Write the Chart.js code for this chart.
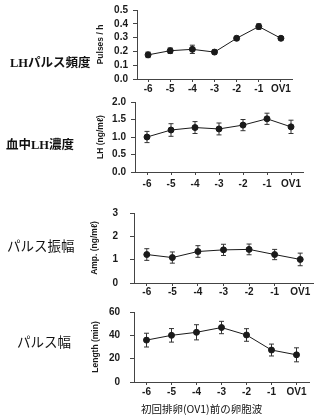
<!DOCTYPE html>
<html>
<head>
<meta charset="utf-8">
<script src="https://cdn.jsdelivr.net/npm/chart.js@4/dist/chart.umd.min.js"></script>
<style>
  html, body { margin: 0; padding: 0; background: #fff; }
  #wrap { position: relative; width: 321px; height: 419px; overflow: hidden; }
  #wrap canvas { position: absolute; left: 0; }
  .lbl { position: absolute; font-family: "Noto Sans CJK JP", sans-serif; font-size: 13.5px; line-height: 1; white-space: nowrap; color: #111; }
  .lat { font-family: "Liberation Serif", serif; font-weight: bold; }
  .bold { font-weight: bold; font-size: 12.5px; }
</style>
</head>
<body>
<div id="wrap">
  <canvas id="c1" width="321" height="100"></canvas>
  <canvas id="c2" width="321" height="100"></canvas>
  <canvas id="c3" width="321" height="100"></canvas>
  <canvas id="c4" width="321" height="100"></canvas>
  <div class="lbl bold" style="left:10px;top:56px;"><span class="lat">LH</span>パルス頻度</div>
  <div class="lbl bold" style="left:6px;top:138px;">血中<span class="lat">LH</span>濃度</div>
  <div class="lbl" style="left:7px;top:239px;">パルス振幅</div>
  <div class="lbl" style="left:17px;top:335px;">パルス幅</div>
  <div class="lbl" style="left:141px;top:404px;font-size:10.5px;">初回排卵(OV1)前の卵胞波</div>
</div>
<script>
// 卵胞波（初回排卵前）
const waves = ['-6', '-5', '-4', '-3', '-2', '-1', 'OV1'];

// LHパルス頻度 (pulses/h) 平均 ± SEM
const pulseFreq    = [0.175, 0.205, 0.215, 0.195, 0.295, 0.38, 0.295];
const pulseFreqSem = [0.02, 0.02, 0.03, 0.015, 0.015, 0.02, 0.012];
const pulseFreqTicks = [0, 0.1, 0.2, 0.3, 0.4, 0.5];

// 血中LH濃度 (ng/ml)
const lhConc    = [1.0, 1.2, 1.27, 1.23, 1.34, 1.52, 1.29];
const lhConcSem = [0.16, 0.18, 0.17, 0.17, 0.16, 0.16, 0.19];
const lhConcTicks = [0, 0.5, 1.0, 1.5, 2.0];

// パルス振幅 (ng/ml)
const pulseAmp    = [1.22, 1.09, 1.35, 1.42, 1.44, 1.22, 1.01];
const pulseAmpSem = [0.25, 0.24, 0.25, 0.24, 0.23, 0.22, 0.27];
const pulseAmpTicks = [0, 1, 2, 3];

// パルス幅 (min)
const pulseLen    = [35.9, 40.0, 42.6, 46.7, 40.3, 27.4, 23.3];
const pulseLenSem = [5.9, 5.8, 6.5, 5.3, 5.4, 5.1, 6.0];
const pulseLenTicks = [0, 20, 40, 60];

const INK = '#1a1a1a';
const tickFont = { family: 'Liberation Sans, Arial, sans-serif', size: 10, weight: 'bold' };
const titleFont = { family: 'Liberation Sans, Arial, sans-serif', size: 8.5, weight: 'bold' };

// 平均値の上下にSEMのエラーバーを描く
const errorBars = {
  id: 'errorBars',
  beforeDatasetsDraw(chart) {
    const ctx = chart.ctx;
    const y = chart.scales.y;
    chart.data.datasets.forEach((ds, i) => {
      const meta = chart.getDatasetMeta(i);
      ctx.save();
      ctx.strokeStyle = '#333';
      ctx.lineWidth = 1;
      meta.data.forEach((pt, j) => {
        const hi = y.getPixelForValue(ds.data[j] + ds.sem[j]);
        const lo = y.getPixelForValue(ds.data[j] - ds.sem[j]);
        ctx.beginPath();
        ctx.moveTo(pt.x, hi); ctx.lineTo(pt.x, lo);
        ctx.moveTo(pt.x - 2.5, hi); ctx.lineTo(pt.x + 2.5, hi);
        ctx.moveTo(pt.x - 2.5, lo); ctx.lineTo(pt.x + 2.5, lo);
        ctx.stroke();
      });
      ctx.restore();
    });
  }
};

// パネル配置: 軸の左右端・上下端(px)、y軸タイトル中心x、目盛りラベルの間隔
function makePanel(id, g, values, sem, ticks, decimals, title) {
  const padTop = 10, xH = 22;
  const canvas = document.getElementById(id);
  canvas.height = (g.bottom - g.top) + padTop + xH;
  canvas.style.top = (g.top - padTop) + 'px';
  const yW = g.left - (g.titleX - 9);

  new Chart(canvas, {
    type: 'line',
    data: {
      labels: waves,
      datasets: [{
        data: values,
        sem: sem,
        borderColor: INK,
        borderWidth: 1,
        pointRadius: 3,
        pointBackgroundColor: INK,
        pointBorderColor: INK,
        tension: 0,
        fill: false
      }]
    },
    options: {
      responsive: false,
      animation: false,
      layout: { padding: { top: padTop, bottom: 0, left: g.left - yW, right: 321 - g.right } },
      plugins: { legend: { display: false }, tooltip: { enabled: false } },
      scales: {
        x: {
          offset: true,
          afterFit: s => { s.height = xH; },
          grid: { drawOnChartArea: false, drawTicks: true, tickLength: 3, color: '#444' },
          border: { display: true, color: '#444', width: 1 },
          ticks: { color: INK, font: tickFont, padding: g.xPad, autoSkip: false, maxRotation: 0 }
        },
        y: {
          min: ticks[0],
          max: ticks[ticks.length - 1],
          afterFit: s => { s.width = yW; },
          afterBuildTicks: s => { s.ticks = ticks.map(v => ({ value: v })); },
          grid: { drawOnChartArea: false, drawTicks: true, tickLength: 4, color: '#444' },
          border: { display: true, color: '#444', width: 1 },
          ticks: { color: INK, font: tickFont, padding: g.yPad, autoSkip: false, callback: v => v.toFixed(decimals) },
          title: { display: true, text: title, color: INK, font: titleFont, padding: { top: 4, bottom: 0 } }
        }
      }
    },
    plugins: [errorBars]
  });
}

makePanel('c1', { left: 137, right: 292, top: 9, bottom: 79, titleX: 101, xPad: 1, yPad: 5 },
  pulseFreq, pulseFreqSem, pulseFreqTicks, 1, 'Pulses / h');
makePanel('c2', { left: 135, right: 303, top: 101, bottom: 172, titleX: 101, xPad: 3, yPad: 5 },
  lhConc, lhConcSem, lhConcTicks, 1, 'LH (ng/mℓ)');
makePanel('c3', { left: 134, right: 313, top: 205, bottom: 283, titleX: 95, xPad: 0, yPad: 12 },
  pulseAmp, pulseAmpSem, pulseAmpTicks, 0, 'Amp. (ng/mℓ)');
makePanel('c4', { left: 134, right: 309, top: 306, bottom: 382, titleX: 96, xPad: 1, yPad: 10 },
  pulseLen, pulseLenSem, pulseLenTicks, 0, 'Length (min)');
</script>
</body>
</html>
